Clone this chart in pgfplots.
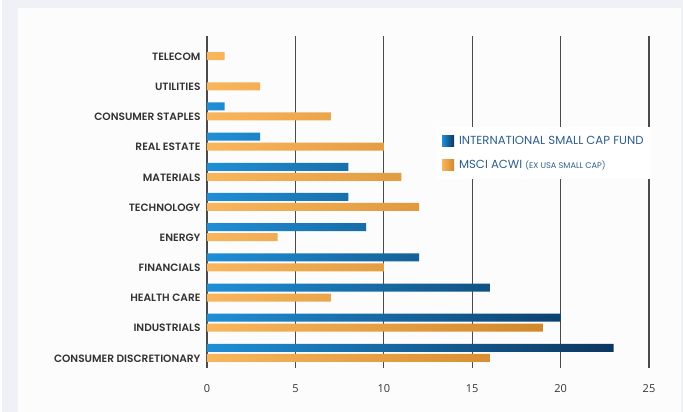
\documentclass[border=0pt]{standalone}
\usepackage{fontspec}
\setmainfont{Poppins}[BoldFont={Poppins SemiBold}]
\newfontfamily\tickfont{Open Sans}
\usepackage{pgfplots}
\pgfplotsset{compat=1.18}
\definecolor{bgout}{HTML}{F0F1F6}
\definecolor{panel}{HTML}{FCFCFC}
\definecolor{blueL}{HTML}{1F8FD6}
\definecolor{blueD}{HTML}{0B365F}
\definecolor{orL}{HTML}{F9B65D}
\definecolor{orD}{HTML}{D2882A}
\definecolor{gridc}{HTML}{4A4A4A}
\definecolor{labc}{HTML}{333333}
\definecolor{legc}{HTML}{2D5E8C}
\begin{document}
\begin{tikzpicture}
\fill[bgout] (0pt,0pt) rectangle (683pt,412pt);
\fill[white] (0pt,0pt) rectangle (2pt,412pt);
\fill[panel] (18pt,0pt) rectangle (681pt,404pt);
\begin{axis}[
  at={(207pt,44pt)}, anchor=south west,
  scale only axis, width=442pt, height=332pt,
  xmin=0, xmax=25, ymin=-0.5, ymax=10.5,
  axis line style={draw=none},
  major tick style={draw=none},
  xmajorgrids, grid style={gridc, line width=1.3pt},
  xtick={0,5,10,15,20,25},
  xticklabel style={font=\tickfont\fontsize{11}{13}\selectfont, text=labc, yshift=-13pt},
  /pgf/number format/assume math mode=true,
  ytick={0,1,2,3,4,5,6,7,8,9,10},
  yticklabels={CONSUMER DISCRETIONARY, INDUSTRIALS, HEALTH CARE, FINANCIALS, ENERGY, TECHNOLOGY, MATERIALS, REAL ESTATE, CONSUMER STAPLES, UTILITIES, TELECOM},
  yticklabel style={font=\bfseries\fontsize{10.6}{12}\selectfont, text=labc, yshift=-5.5pt, xshift=-3pt},
  legend style={at={(rel axis cs:0.52,0.726)}, anchor=north west, draw=none, fill=white,
    inner xsep=5pt, inner ysep=7pt, row sep=10pt,
    font=\fontsize{11.7}{13}\selectfont, text=legc},
  legend cell align=left,
]
\addplot[xbar, bar width=8pt, bar shift=5pt, draw=none, left color=blueL, right color=blueD,
  legend image code/.code={\path (0pt,0pt) -- (15pt,0pt);\fill[left color=blueL, right color=blueD] (0pt,-5.5pt) rectangle (12pt,5.5pt);}]
  coordinates {(23,0) (20,1) (16,2) (12,3) (9,4) (8,5) (8,6) (3,7) (1,8)};
\addlegendentry{INTERNATIONAL SMALL CAP FUND}
\addplot[xbar, bar width=8pt, bar shift=-5pt, draw=none, left color=orL, right color=orD,
  legend image code/.code={\path (0pt,0pt) -- (15pt,0pt);\fill[left color=orL, right color=orD] (0pt,-5.5pt) rectangle (12pt,5.5pt);}]
  coordinates {(16,0) (19,1) (7,2) (10,3) (4,4) (12,5) (11,6) (10,7) (7,8) (3,9) (1,10)};
\addlegendentry{MSCI ACWI {\fontsize{8.2}{9}\selectfont (EX USA SMALL CAP)}}
\end{axis}
\pgfresetboundingbox
\useasboundingbox (0pt,0pt) rectangle (683pt,412pt);
\end{tikzpicture}
\end{document}
